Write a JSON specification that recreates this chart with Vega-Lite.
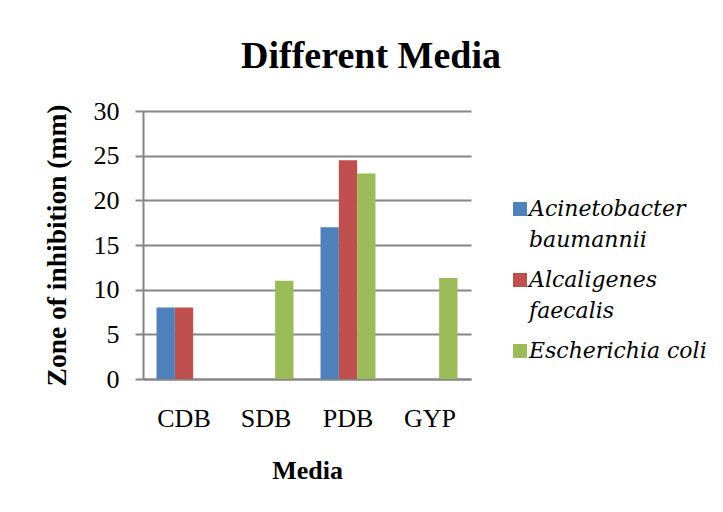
{
  "$schema": "https://vega.github.io/schema/vega-lite/v6.json",
  "width": 328,
  "height": 268,
  "autosize": "none",
  "padding": {"left": 143, "top": 111, "right": 252, "bottom": 133},
  "background": "white",
  "title": {
    "text": "Different Media",
    "font": "Liberation Serif",
    "fontSize": 38,
    "fontWeight": "bold",
    "color": "black",
    "anchor": "middle",
    "frame": "group",
    "dx": 64,
    "baseline": "alphabetic",
    "offset": -8
  },
  "data": {
    "values": [
      {"Media": "CDB", "Organism": "Acinetobacter baumannii", "Zone": 8},
      {"Media": "CDB", "Organism": "Alcaligenes faecalis", "Zone": 8},
      {"Media": "SDB", "Organism": "Escherichia coli", "Zone": 11},
      {"Media": "PDB", "Organism": "Acinetobacter baumannii", "Zone": 17},
      {"Media": "PDB", "Organism": "Alcaligenes faecalis", "Zone": 24.5},
      {"Media": "PDB", "Organism": "Escherichia coli", "Zone": 23},
      {"Media": "GYP", "Organism": "Escherichia coli", "Zone": 11.3}
    ]
  },
  "mark": {"type": "bar"},
  "encoding": {
    "x": {
      "field": "Media",
      "type": "nominal",
      "sort": ["CDB", "SDB", "PDB", "GYP"],
      "scale": {"domain": ["CDB", "SDB", "PDB", "GYP"], "paddingInner": 0.33, "paddingOuter": 0.165},
      "axis": {
        "title": "Media",
        "titleFont": "Liberation Serif",
        "titleFontSize": 26,
        "titleFontWeight": "bold",
        "titleColor": "black",
        "titlePadding": 26,
        "labelFont": "Liberation Serif",
        "labelFontSize": 26,
        "labelColor": "black",
        "labelAngle": 0,
        "labelPadding": 26,
        "ticks": false,
        "tickSize": 0,
        "domainColor": "#868686",
        "domainWidth": 2
      }
    },
    "y": {
      "field": "Zone",
      "type": "quantitative",
      "scale": {"domain": [0, 30], "nice": false},
      "axis": {
        "title": "Zone of inhibition (mm)",
        "titleFont": "Liberation Serif",
        "titleFontSize": 27.5,
        "titleFontWeight": "bold",
        "titleColor": "black",
        "titlePadding": 22,
        "values": [0, 5, 10, 15, 20, 25, 30],
        "labelFont": "Liberation Serif",
        "labelFontSize": 26,
        "labelColor": "black",
        "labelPadding": 16,
        "tickSize": 8,
        "tickColor": "#868686",
        "tickWidth": 2,
        "domainColor": "#868686",
        "domainWidth": 2,
        "grid": true,
        "gridColor": "#868686",
        "gridWidth": 2
      }
    },
    "xOffset": {
      "field": "Organism",
      "type": "nominal",
      "scale": {"domain": ["Acinetobacter baumannii", "Alcaligenes faecalis", "Escherichia coli"], "paddingInner": 0, "paddingOuter": 0}
    },
    "color": {
      "field": "Organism",
      "type": "nominal",
      "scale": {
        "domain": ["Acinetobacter baumannii", "Alcaligenes faecalis", "Escherichia coli"],
        "range": ["#4F81BD", "#C0504D", "#9BBB59"]
      },
      "legend": {
        "title": null,
        "orient": "none",
        "legendX": 366,
        "legendY": 87,
        "padding": 0,
        "symbolType": "square",
        "symbolSize": 196,
        "symbolStrokeWidth": 0,
        "labelFont": "DejaVu Serif",
        "labelFontSize": 22,
        "labelFontStyle": "italic",
        "labelColor": "black",
        "labelOffset": -2,
        "labelLimit": 400,
        "rowPadding": 18,
        "labelExpr": "datum.label == 'Acinetobacter baumannii' ? ['Acinetobacter', 'baumannii'] : datum.label == 'Alcaligenes faecalis' ? ['Alcaligenes', 'faecalis'] : datum.label",
        "labelBaseline": "top",
        "encode": {
          "labels": {"update": {"lineHeight": {"value": 31}, "dy": {"value": -10}}}
        }
      }
    }
  },
  "config": {"view": {"stroke": null}}
}
